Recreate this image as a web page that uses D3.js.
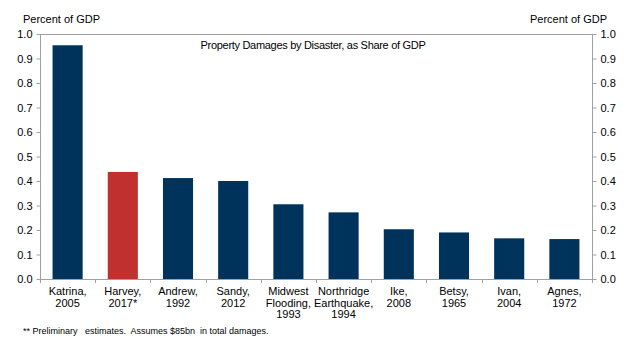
<!DOCTYPE html>
<html>
<head>
<meta charset="utf-8">
<script src="https://cdn.jsdelivr.net/npm/d3@7"></script>
<style>
  body { margin: 0; background: #fff; }
  text { font-family: "Liberation Sans", Arial, sans-serif; fill: #000; }
</style>
</head>
<body>
<svg id="chart" width="642" height="347"></svg>
<script>
// disasters and their damages, share of GDP (%)
const categories = [
    ['Katrina,', '2005'],
    ['Harvey,', '2017*'],
    ['Andrew,', '1992'],
    ['Sandy,', '2012'],
    ['Midwest', 'Flooding,', '1993'],
    ['Northridge', 'Earthquake,', '1994'],
    ['Ike,', '2008'],
    ['Betsy,', '1965'],
    ['Ivan,', '2004'],
    ['Agnes,', '1972']
]
const values = [0.954, 0.437, 0.412, 0.40, 0.305, 0.272, 0.203, 0.19, 0.166, 0.163]
const highlight = [false, true, false, false, false, false, false, false, false, false]
const yTicks = [0, 0.1, 0.2, 0.3, 0.4, 0.5, 0.6, 0.7, 0.8, 0.9, 1.0]

const svg = d3.select('#chart')
const margin = {left: 40, top: 34, right: 592, bottom: 279}
const axisColor = '#a0a0a0'

const x = d3.scaleBand()
    .domain(d3.range(categories.length))
    .range([margin.left, margin.right])
    .paddingInner(0.455)
    .paddingOuter(0.2275)

const y = d3.scaleLinear()
    .domain([0, 1])
    .range([margin.bottom, margin.top])

// bars
svg.append('g').selectAll('rect')
    .data(values)
    .join('rect')
    .attr('x', (d, i) => x(i))
    .attr('width', x.bandwidth())
    .attr('y', d => y(d))
    .attr('height', d => y(0) - y(d))
    .attr('fill', (d, i) => highlight[i] ? '#c0302f' : '#00335b')

// frame top line
svg.append('line')
    .attr('x1', margin.left).attr('x2', margin.right)
    .attr('y1', margin.top + 0.5).attr('y2', margin.top + 0.5)
    .attr('stroke', axisColor)

const left = svg.append('g')
    .attr('transform', `translate(${margin.left + 0.5}, 0)`)
    .call(d3.axisLeft(y).tickValues(yTicks).tickFormat(d3.format('.1f')).tickSize(4).tickPadding(4))
const right = svg.append('g')
    .attr('transform', `translate(${margin.right + 0.5}, 0)`)
    .call(d3.axisRight(y).tickValues(yTicks).tickFormat(d3.format('.1f')).tickSize(4).tickPadding(4))

;[left, right].forEach(g => {
    g.select('.domain').attr('stroke', axisColor).attr('d', `M0,${margin.top}V${margin.bottom}`)
    g.selectAll('.tick line').attr('stroke', axisColor)
    g.selectAll('.tick text').style('font-size', '11px').attr('fill', '#000')
})

// bottom axis with ticks between categories
const step = x.step()
const bottom = svg.append('g')
bottom.append('line')
    .attr('x1', margin.left).attr('x2', margin.right + 1)
    .attr('y1', margin.bottom + 0.5).attr('y2', margin.bottom + 0.5)
    .attr('stroke', axisColor)
bottom.selectAll('line.tick')
    .data(d3.range(categories.length + 1))
    .join('line')
    .classed('tick', true)
    .attr('x1', i => Math.round(margin.left + i * step) + 0.5)
    .attr('x2', i => Math.round(margin.left + i * step) + 0.5)
    .attr('y1', margin.bottom)
    .attr('y2', margin.bottom + 4)
    .attr('stroke', axisColor)

bottom.selectAll('text.cat')
    .data(categories)
    .join('text')
    .classed('cat', true)
    .attr('text-anchor', 'middle')
    .attr('transform', (d, i) => `translate(${x(i) + x.bandwidth() / 2}, 295)`)
    .style('font-size', '11px')
    .selectAll('tspan')
    .data(d => d)
    .join('tspan')
    .attr('x', 0)
    .attr('y', (d, i) => i * 11.5)
    .text(d => d)

// labels
svg.append('text').attr('x', 23).attr('y', 23).style('font-size', '11px').text('Percent of GDP')
svg.append('text').attr('x', 607).attr('y', 23).attr('text-anchor', 'end').style('font-size', '11px').text('Percent of GDP')
svg.append('text').attr('x', 313).attr('y', 49).attr('text-anchor', 'middle').style('font-size', '11px')
    .style('letter-spacing', '-0.3px')
    .text('Property Damages by Disaster, as Share of GDP')
svg.append('text').attr('x', 23).attr('y', 334).style('font-size', '9px').style('white-space', 'pre')
    .text('** Preliminary   estimates.  Assumes $85bn  in total damages.')
</script>
</body>
</html>
